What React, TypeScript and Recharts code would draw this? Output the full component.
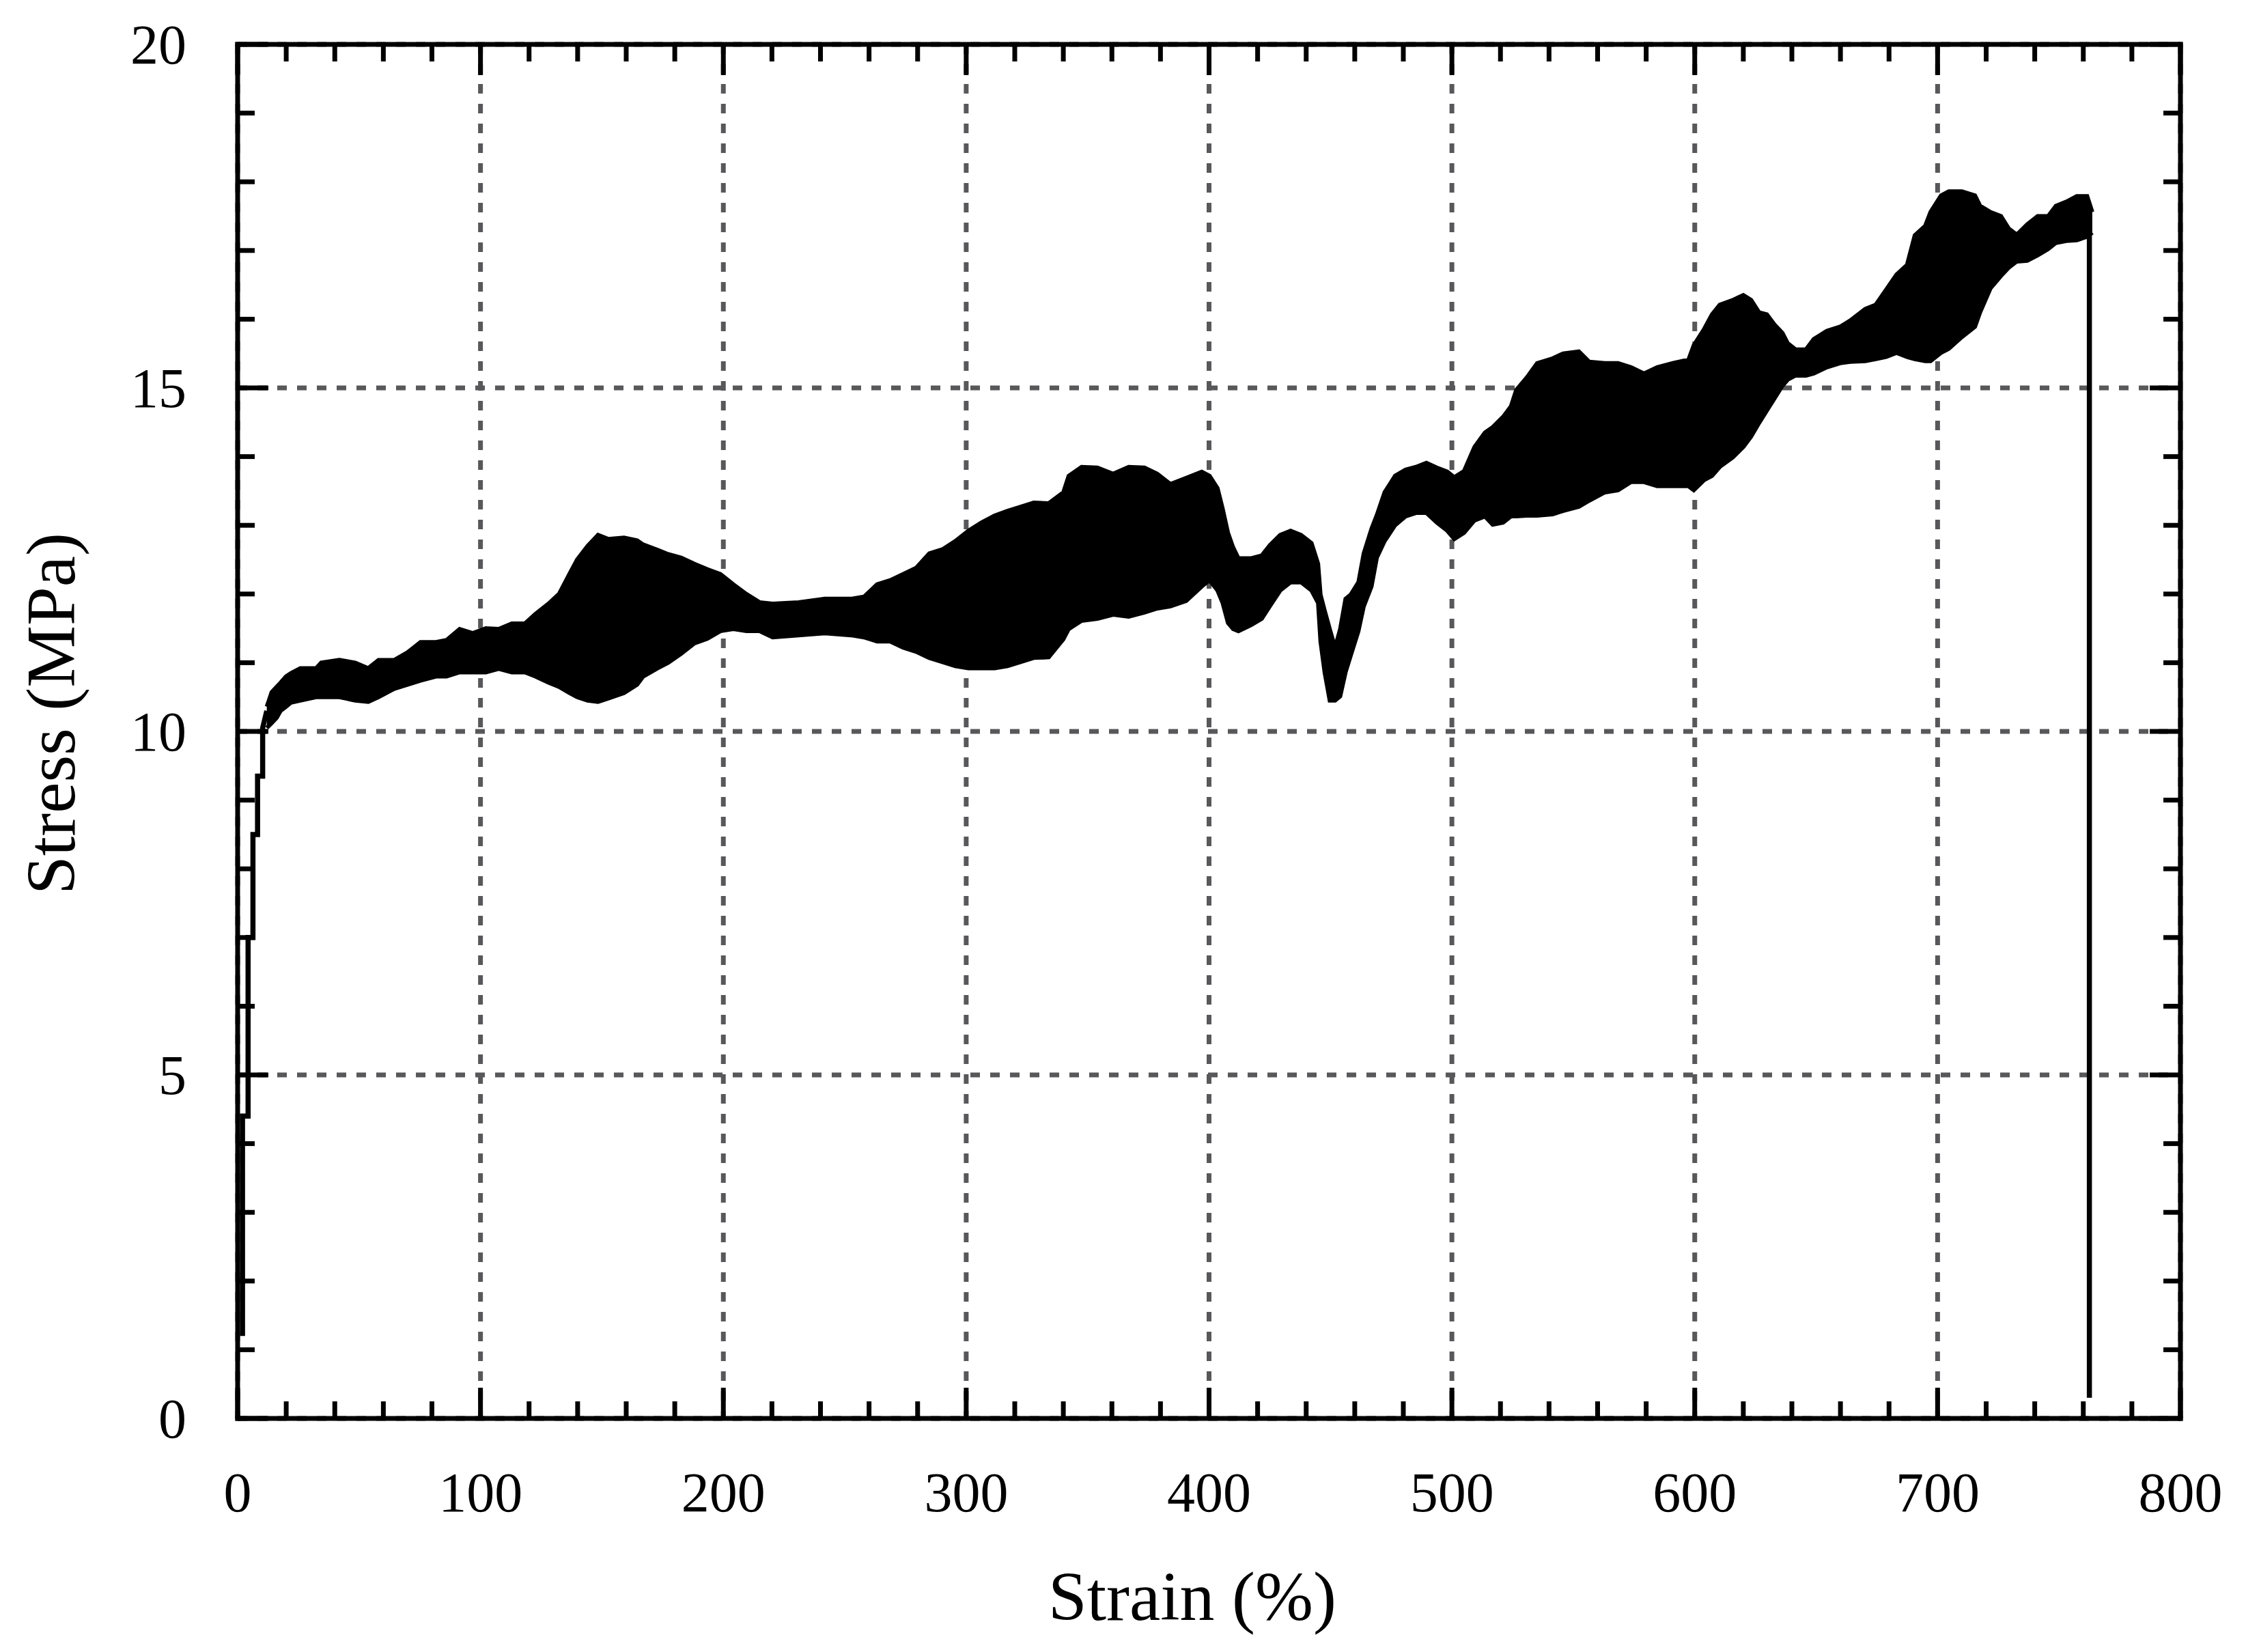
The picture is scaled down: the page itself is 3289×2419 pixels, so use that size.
import React from 'react';
import { ComposedChart, Area, Line, XAxis, YAxis, CartesianGrid } from 'recharts';

// ---- data ----
const bandStrain = [
  12, 14, 16.1, 17.7, 19.9, 22, 25.8, 32.3, 34.4, 41.9, 48.4, 53.8, 58, 64.5, 69.9, 75.3, 81.7, 86, 91.4, 96.8,
  102.2, 107.5, 112.9, 118.3, 122.6, 128, 132.3, 136.6, 139.8, 144.1, 148.4, 152.7, 159.1, 164.5, 167,
  173, 177.3, 182.6, 188, 193.4, 198.8, 204.1, 209.5, 214.9, 220.3, 231, 241.8, 252.5, 257.9, 263.3, 268.7,
  274, 279.4, 284.8, 290.2, 295.5, 300.9, 306.3, 311.7, 317, 322.4, 327.8, 334,
  340, 342.2, 347.5, 354, 360.5, 366.9, 373.4, 378.7, 384.1, 390.6, 397, 400.2, 403.5, 405.6, 407.8, 409.9,
  412.1, 417.4, 421.7, 425, 429.3, 433.6, 437.9, 442.2, 444.9, 445.9, 447.6, 449.7, 451.9, 454, 456.2, 458.3,
  461.5, 463.7, 466.9, 469.1, 472.3, 476.6, 480.9, 485.2, 489.5, 493.8, 498.1, 501,
  505, 509.3, 513.6, 516.8, 521.1, 524.3, 526.5, 530.8, 535.1, 541.5, 545.8, 552.3, 556.6, 563, 568.4, 573.8,
  579.1, 584.5, 591, 597.4, 599.6, 603.9, 607.1, 610.3, 615.7, 620, 623.2, 626.5, 629.7, 632.9, 636.1, 638.3,
  641.5, 645.8, 649, 654.4, 659.8, 664,
  670.2, 674.5, 678.8, 683.1, 687.4, 690.6, 694.9, 697.1, 701.4, 704.6, 710, 715.4, 717.5, 721.8, 726.1, 729.3,
  732.6, 736.9, 741.2, 745.5, 748.7, 753, 757.3, 761.6, 763.7,
];
const bandLow = [
  10.05, 10.12, 10.2, 10.3, 10.36, 10.42, 10.45, 10.5, 10.5, 10.5, 10.45, 10.43, 10.5, 10.62, 10.68, 10.74, 10.8, 10.8, 10.86, 10.86,
  10.86, 10.91, 10.86, 10.86, 10.8, 10.71, 10.65, 10.56, 10.5, 10.45, 10.43, 10.48, 10.56, 10.68, 10.8,
  10.92, 11.0, 11.13, 11.28, 11.35, 11.46, 11.49, 11.46, 11.46, 11.37, 11.4, 11.43, 11.4, 11.37, 11.31, 11.31,
  11.22, 11.16, 11.07, 11.01, 10.95, 10.92, 10.92, 10.92, 10.95, 11.01, 11.07, 11.08,
  11.34, 11.49, 11.61, 11.64, 11.7, 11.67, 11.73, 11.79, 11.82, 11.9, 12.11, 12.2, 12.05, 11.87, 11.58, 11.49,
  11.46, 11.55, 11.64, 11.82, 12.05, 12.17, 12.17, 12.05, 11.87, 11.31, 10.86, 10.45, 10.45, 10.51, 10.86, 11.1,
  11.46, 11.82, 12.11, 12.53, 12.77, 13.0, 13.13, 13.18, 13.18, 13.04, 12.92, 12.8,
  12.89, 13.07, 13.13, 13.01, 13.04, 13.13, 13.13, 13.14, 13.14, 13.16, 13.21, 13.27, 13.36, 13.48, 13.51, 13.63,
  13.63, 13.57, 13.57, 13.57, 13.51, 13.66, 13.72, 13.85, 13.99, 14.14, 14.29, 14.49, 14.67, 14.85, 15.03, 15.12,
  15.18, 15.18, 15.21, 15.3, 15.36, 15.38,
  15.39, 15.42, 15.45, 15.51, 15.45, 15.42, 15.39, 15.39, 15.51, 15.57, 15.74, 15.89, 16.1, 16.45, 16.63, 16.75,
  16.84, 16.85, 16.93, 17.02, 17.11, 17.14, 17.15, 17.2, 17.26,
];
const bandHigh = [
  10.36, 10.57, 10.65, 10.71, 10.8, 10.85, 10.92, 10.92, 11.0, 11.04, 11.0, 10.92, 11.04, 11.04, 11.15, 11.3, 11.3, 11.33, 11.49, 11.43,
  11.5, 11.49, 11.57, 11.57, 11.71, 11.86, 12.0, 12.29, 12.5, 12.7, 12.86, 12.8, 12.82, 12.78, 12.72,
  12.64, 12.58, 12.53, 12.44, 12.36, 12.29, 12.14, 12.0, 11.88, 11.86, 11.88, 11.93, 11.93, 11.96, 12.14, 12.2,
  12.29, 12.38, 12.59, 12.65, 12.77, 12.92, 13.04, 13.14, 13.21, 13.27, 13.33, 13.32,
  13.48, 13.72, 13.85, 13.84, 13.75, 13.85, 13.84, 13.75, 13.6, 13.69, 13.78, 13.72, 13.54, 13.24, 12.89, 12.68,
  12.52, 12.52, 12.56, 12.71, 12.86, 12.92, 12.86, 12.74, 12.44, 11.99, 11.76, 11.49, 11.22, 11.49, 11.93, 11.99,
  12.17, 12.59, 12.95, 13.15, 13.48, 13.72, 13.81, 13.85, 13.91, 13.84, 13.78, 13.7,
  13.79, 14.14, 14.35, 14.43, 14.58, 14.73, 14.97, 15.15, 15.36, 15.43, 15.5, 15.53, 15.38, 15.36, 15.36, 15.3,
  15.21, 15.3, 15.36, 15.41, 15.62, 15.86, 16.07, 16.21, 16.28, 16.35, 16.28, 16.1, 16.07, 15.92, 15.8, 15.65,
  15.56, 15.56, 15.71, 15.83, 15.89, 15.98,
  16.15, 16.21, 16.43, 16.65, 16.79, 17.22, 17.36, 17.56, 17.8, 17.86, 17.86, 17.8, 17.65, 17.56, 17.5, 17.32,
  17.23, 17.38, 17.5, 17.5, 17.65, 17.71, 17.79, 17.79, 17.56,
];

const riseStrain = [2.0, 2.0, 4.3, 4.3, 6.3, 6.3, 8.2, 8.2, 10.3, 10.3, 12];
const riseStress = [1.2, 4.4, 4.4, 7.0, 7.0, 8.5, 8.5, 9.35, 9.35, 10.05, 10.3];

const dropStrain = [762.5, 762.5];
const dropStress = [17.3, 0.3];

const xMajorTicks = [0, 100, 200, 300, 400, 500, 600, 700, 800];
const xAllTicks = [
  0, 20, 40, 60, 80, 100, 120, 140, 160, 180, 200, 220, 240, 260, 280, 300, 320, 340, 360, 380, 400,
  420, 440, 460, 480, 500, 520, 540, 560, 580, 600, 620, 640, 660, 680, 700, 720, 740, 760, 780, 800,
];
const yMajorTicks = [0, 5, 10, 15, 20];
const yAllTicks = [0, 1, 2, 3, 4, 5, 6, 7, 8, 9, 10, 11, 12, 13, 14, 15, 16, 17, 18, 19, 20];

const xTitle = 'Strain (%)';
const yTitle = 'Stress (MPa)';

// ---- derived tables ----
const bandData = bandStrain.map((x, i) => ({ x, range: [bandLow[i], bandHigh[i]] }));
const riseData = riseStrain.map((x, i) => ({ x, y: riseStress[i] }));
const dropData = dropStrain.map((x, i) => ({ x, y: dropStress[i] }));

const W = 3281;
const H = 2411;
const FONT = "'Liberation Serif', 'Times New Roman', serif";
const BLACK = '#000000';
const GRID = '#58585a';
const FRAME_W = 7;
const MAJOR = 45;
const MINOR = 25;
const TICK_FS = 82;

const axisLine = { stroke: BLACK, strokeWidth: FRAME_W, strokeLinecap: 'square' as const };

const isMajorX = (v: number) => xMajorTicks.indexOf(v) >= 0;
const isMajorY = (v: number) => yMajorTicks.indexOf(v) >= 0;

const BottomTick = (p: any) => {
  const v = p.payload.value;
  const major = isMajorX(v);
  const len = major ? MAJOR : MINOR;
  return (
    <g>
      <line x1={p.x} y1={p.y} x2={p.x} y2={p.y - len} stroke={BLACK} strokeWidth={FRAME_W} />
      {major && (
        <text x={p.x} y={p.y + 136} textAnchor="middle" fontSize={TICK_FS} fontFamily={FONT} fill={BLACK}>
          {String(v)}
        </text>
      )}
    </g>
  );
};

const TopTick = (p: any) => {
  const v = p.payload.value;
  const len = isMajorX(v) ? MAJOR : MINOR;
  return <line x1={p.x} y1={p.y} x2={p.x} y2={p.y + len} stroke={BLACK} strokeWidth={FRAME_W} />;
};

const LeftTick = (p: any) => {
  const v = p.payload.value;
  const major = isMajorY(v);
  const len = major ? MAJOR : MINOR;
  return (
    <g>
      <line x1={p.x} y1={p.y} x2={p.x + len} y2={p.y} stroke={BLACK} strokeWidth={FRAME_W} />
      {major && (
        <text x={p.x - 75} y={p.y + 28} textAnchor="end" fontSize={TICK_FS} fontFamily={FONT} fill={BLACK}>
          {String(v)}
        </text>
      )}
    </g>
  );
};

const RightTick = (p: any) => {
  const v = p.payload.value;
  const len = isMajorY(v) ? MAJOR : MINOR;
  return <line x1={p.x} y1={p.y} x2={p.x - len} y2={p.y} stroke={BLACK} strokeWidth={FRAME_W} />;
};

export default function App() {
  return (
    <div style={{ position: 'relative', width: W, height: H, background: '#fff' }}>
      <ComposedChart width={W} height={H} margin={{ top: 0, right: 0, bottom: 0, left: 0 }}>
        <CartesianGrid stroke={GRID} strokeWidth={FRAME_W} strokeDasharray="14 15" />
        <XAxis
          dataKey="x"
          type="number"
          domain={[0, 800]}
          ticks={xMajorTicks}
          interval={0}
          allowDataOverflow
          orientation="bottom"
          height={342}
          axisLine={axisLine}
          tickLine={false}
          tickSize={0}
          tickMargin={0}
          tick={() => null}
        />
        <XAxis
          xAxisId="top"
          dataKey="x"
          type="number"
          domain={[0, 800]}
          ticks={xAllTicks}
          interval={0}
          allowDataOverflow
          orientation="top"
          height={57}
          axisLine={axisLine}
          tickLine={false}
          tickSize={0}
          tickMargin={0}
          tick={<TopTick />}
        />
        <YAxis
          type="number"
          domain={[0, 20]}
          ticks={yMajorTicks}
          interval={0}
          allowDataOverflow
          orientation="left"
          width={340}
          axisLine={axisLine}
          tickLine={false}
          tickSize={0}
          tickMargin={0}
          tick={() => null}
        />
        <YAxis
          yAxisId="right"
          type="number"
          domain={[0, 20]}
          ticks={yAllTicks}
          interval={0}
          allowDataOverflow
          orientation="right"
          width={96}
          axisLine={axisLine}
          tickLine={false}
          tickSize={0}
          tickMargin={0}
          tick={<RightTick />}
        />
        <Area
          data={bandData}
          dataKey="range"
          type="linear"
          fill={BLACK}
          fillOpacity={1}
          stroke={BLACK}
          strokeWidth={6}
          dot={false}
          activeDot={false}
          isAnimationActive={false}
        />
        <Line
          data={riseData}
          dataKey="y"
          type="linear"
          stroke={BLACK}
          strokeWidth={7.5}
          dot={false}
          activeDot={false}
          isAnimationActive={false}
        />
        <Line
          data={dropData}
          dataKey="y"
          type="linear"
          stroke={BLACK}
          strokeWidth={7.5}
          dot={false}
          activeDot={false}
          isAnimationActive={false}
        />
        <XAxis
          xAxisId="bottomTicks"
          dataKey="x"
          type="number"
          domain={[0, 800]}
          ticks={xAllTicks}
          interval={0}
          allowDataOverflow
          orientation="bottom"
          height={1}
          axisLine={false}
          tickLine={false}
          tickSize={0}
          tickMargin={0}
          tick={<BottomTick />}
          mirror
        />
        <YAxis
          yAxisId="leftTicks"
          type="number"
          domain={[0, 20]}
          ticks={yAllTicks}
          interval={0}
          allowDataOverflow
          orientation="left"
          width={1}
          axisLine={false}
          tickLine={false}
          tickSize={0}
          tickMargin={0}
          tick={<LeftTick />}
          mirror
        />
      </ComposedChart>
      <svg
        width={W}
        height={H}
        style={{ position: 'absolute', left: 0, top: 0, pointerEvents: 'none' }}
      >
        <text x={1738} y={2364} textAnchor="middle" fontSize={102} fontFamily={FONT} fill={BLACK}>
          {xTitle}
        </text>
        <text
          x={101}
          y={1037}
          transform="rotate(-90 101 1037)"
          textAnchor="middle"
          fontSize={102}
          fontFamily={FONT}
          fill={BLACK}
        >
          {yTitle}
        </text>
      </svg>
    </div>
  );
}
